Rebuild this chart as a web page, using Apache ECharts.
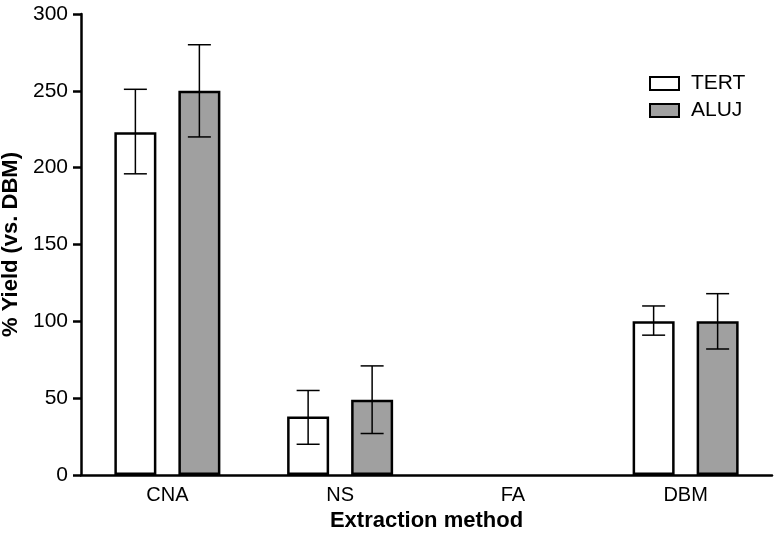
<!DOCTYPE html>
<html>
<head>
<meta charset="utf-8">
<script src="https://cdn.jsdelivr.net/npm/echarts@6/dist/echarts.min.js"></script>
<style>html,body{margin:0;padding:0;background:#fff}#c{width:776px;height:539px}</style>
</head>
<body>
<div id="c"></div>
<script>
const categories = ['CNA', 'NS', 'FA', 'DBM'];
const tertValues = [223, 38, 0, 100];
const tertLow = [196, 20, null, 91];
const tertHigh = [251, 55, null, 110];
const alujValues = [250, 49, 0, 100];
const alujLow = [220, 27, null, 82];
const alujHigh = [280, 71, null, 118];
const yTicks = [0, 50, 100, 150, 200, 250, 300];

const FONT = '"Liberation Sans", Arial, Helvetica, sans-serif';
const BAR_W = 42, GAP = 22;
const OFFSET = (BAR_W + GAP) / 2;

function barData(values) {
  return values.map(v => ({ value: v, itemStyle: { borderWidth: v === 0 ? 0 : 2.5 } }));
}

function errSeries(low, high, sign) {
  return {
    type: 'custom',
    z: 5,
    silent: true,
    data: categories.map((c, i) => [i, low[i], high[i]]),
    renderItem: function (params, api) {
      const lo = api.value(1), hi = api.value(2);
      if (lo == null || hi == null || isNaN(lo) || isNaN(hi)) return null;
      const pLo = api.coord([api.value(0), lo]);
      const pHi = api.coord([api.value(0), hi]);
      const x = pLo[0] + sign * OFFSET;
      const half = 11.5;
      const style = { stroke: '#000', lineWidth: 1.5 };
      return {
        type: 'group',
        children: [
          { type: 'line', shape: { x1: x, y1: pLo[1], x2: x, y2: pHi[1] }, style: style },
          { type: 'line', shape: { x1: x - half, y1: pHi[1], x2: x + half, y2: pHi[1] }, style: style },
          { type: 'line', shape: { x1: x - half, y1: pLo[1], x2: x + half, y2: pLo[1] }, style: style }
        ]
      };
    }
  };
}

const chart = echarts.init(document.getElementById('c'), null, { renderer: 'canvas' });
chart.setOption({
  animation: false,
  textStyle: { fontFamily: FONT },
  grid: { left: 81, right: 4, top: 14, bottom: 64, containLabel: false, outerBoundsMode: 'none' },
  legend: {
    data: ['TERT', 'ALUJ'],
    orient: 'vertical',
    left: 644,
    top: 68,
    itemWidth: 29,
    itemHeight: 13,
    itemGap: 6,
    icon: 'rect',
    textStyle: { fontFamily: FONT, fontSize: 21, color: '#000', padding: [0, 0, 0, 7] }
  },
  xAxis: {
    type: 'category',
    data: categories,
    name: 'Extraction method',
    nameLocation: 'middle',
    nameGap: 35,
    nameTextStyle: { fontFamily: FONT, fontSize: 22, fontWeight: 'bold', color: '#000' },
    axisLine: { lineStyle: { color: '#000', width: 2.5 } },
    axisTick: { alignWithLabel: true, length: 7, lineStyle: { color: '#000', width: 2.5 } },
    axisLabel: { fontFamily: FONT, fontSize: 20, color: '#000', margin: 10 }
  },
  yAxis: {
    type: 'value',
    min: yTicks[0],
    max: yTicks[yTicks.length - 1],
    interval: 50,
    name: '% Yield (vs. DBM)',
    nameLocation: 'middle',
    nameGap: 58,
    nameTextStyle: { fontFamily: FONT, fontSize: 22, fontWeight: 'bold', color: '#000' },
    axisLine: { show: true, lineStyle: { color: '#000', width: 2.5 } },
    axisTick: { show: true, length: 8, lineStyle: { color: '#000', width: 2.5 } },
    axisLabel: { fontFamily: FONT, fontSize: 21, color: '#000', margin: 13 },
    splitLine: { show: false }
  },
  series: [
    {
      name: 'TERT', type: 'bar', data: barData(tertValues), barWidth: BAR_W, barGap: (GAP / BAR_W * 100).toFixed(1) + '%',
      itemStyle: { color: '#ffffff', borderColor: '#000', borderWidth: 2.5 }
    },
    {
      name: 'ALUJ', type: 'bar', data: barData(alujValues), barWidth: BAR_W,
      itemStyle: { color: '#a0a0a0', borderColor: '#000', borderWidth: 2.5 }
    },
    errSeries(tertLow, tertHigh, -1),
    errSeries(alujLow, alujHigh, 1)
  ]
});
</script>
</body>
</html>
